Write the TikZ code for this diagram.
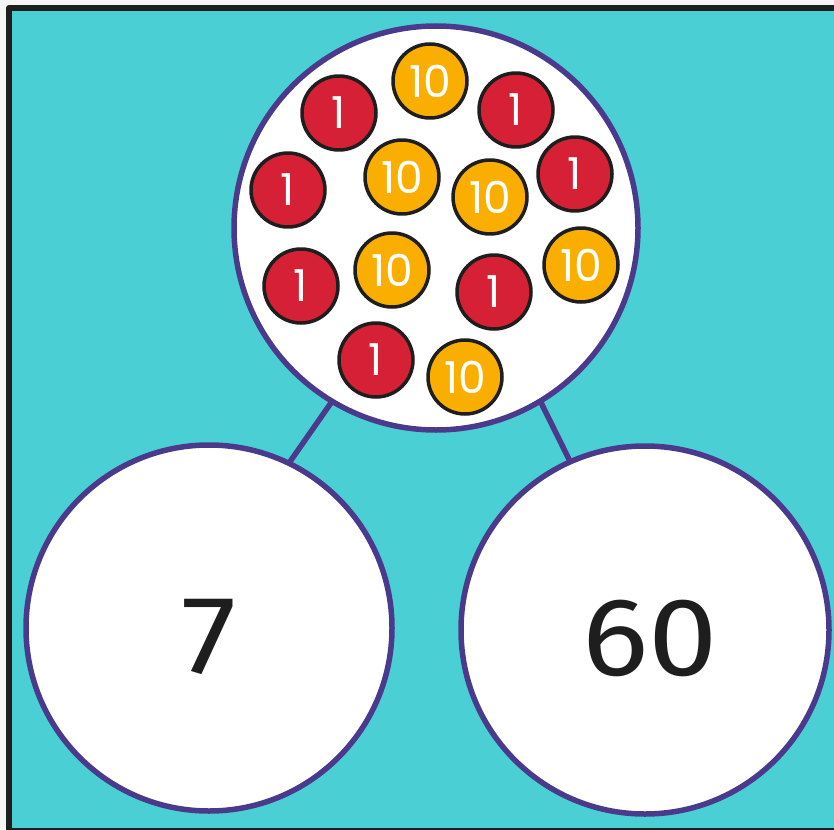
\documentclass[tikz,border=0pt]{standalone}
\usepackage{fontspec}
\newfontfamily\numfont{Poppins}
\newfontfamily\bignumfont[FakeStretch=1.12]{Fira Sans}
\definecolor{sea}{RGB}{74,208,212}
\definecolor{rim}{RGB}{75,58,140}
\definecolor{onered}{RGB}{214,32,53}
\definecolor{tenorange}{RGB}{249,174,0}
\definecolor{ink}{RGB}{30,30,30}
\begin{document}
\begin{tikzpicture}[
    x=1pt,
    y=-1pt,
    line join=round,
    line cap=round,
    part/.style={circle, draw=rim, fill=white, line width=5.5pt, inner sep=0pt,
        font=\bignumfont\fontsize{111}{111}\selectfont, text=ink,
        text height=90pt, text depth=0pt},
    coin/.style={circle, draw=ink, line width=3.5pt, minimum size=74pt, inner sep=0pt,
        font=\numfont\fontsize{44}{44}\selectfont, text=white},
    one/.style={coin, fill=onered},
    ten/.style={coin, fill=tenorange}
]
    % 背景与边框
    \useasboundingbox (0,0) rectangle (834,829);
    \fill[gray!8] (0,0) rectangle (834,829);
    \draw[ink, fill=sea, line width=6pt] (9,8) rectangle (840,831);

    % 三个圆
    \node[part, minimum size=404pt] (whole) at (436,228) {};
    \node[part, minimum size=366pt] (left) at (209,628) {7};
    \node[part, minimum size=368pt] (right) at (645,630) {\hspace{10pt}60};

    % 连线
    \draw[rim, line width=5.5pt] (whole.-121) -- (left.64);
    \draw[rim, line width=5.5pt] (whole.-59) -- (right.114);

    % 计数片
    \node[one] (c1) at (339,113) {1};
    \node[ten] (c2) at (430,81) {10};
    \node[one] (c3) at (516,110) {1};
    \node[one] (c4) at (288,190) {1};
    \node[ten] (c5) at (402,177) {10};
    \node[ten] (c6) at (490,197) {10};
    \node[one] (c7) at (575,174) {1};
    \node[one] (c8) at (301,286) {1};
    \node[ten] (c9) at (392,270) {10};
    \node[one] (c10) at (494,292) {1};
    \node[ten] (c11) at (581,265) {10};
    \node[one] (c12) at (376,360) {1};
    \node[ten] (c13) at (465,377) {10};

\end{tikzpicture}
\end{document}
